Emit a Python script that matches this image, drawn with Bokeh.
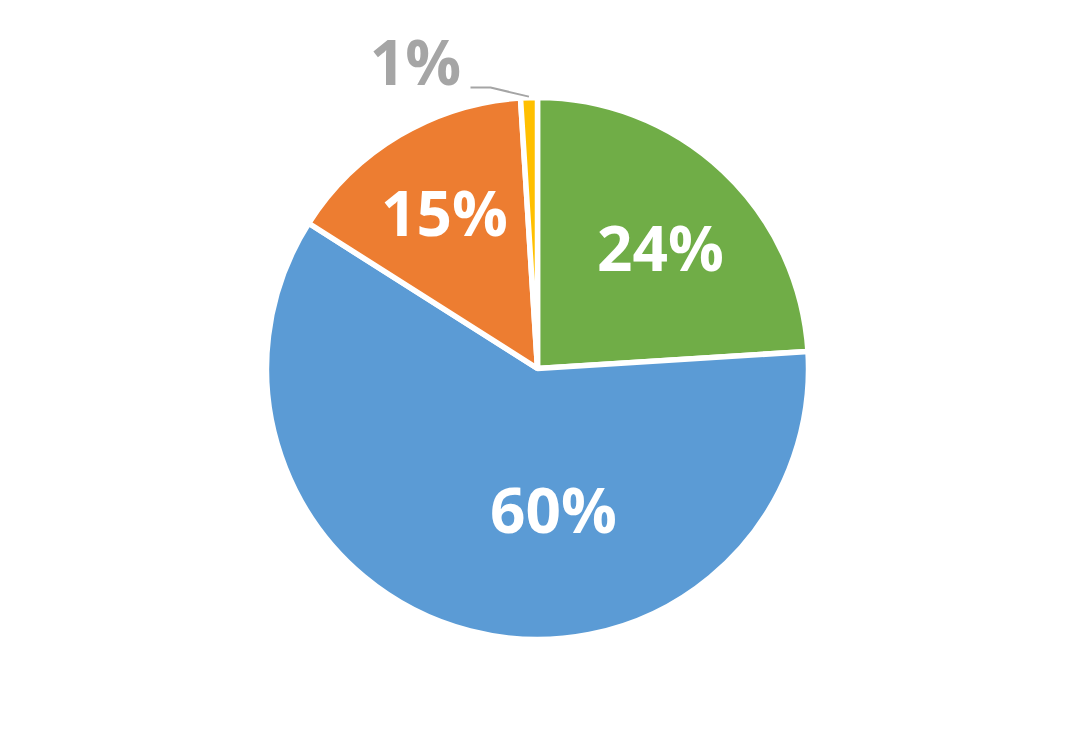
import math
from bokeh.plotting import figure
from bokeh.models import ColumnDataSource
from bokeh.core.properties import value
from bokeh.embed import file_html
from bokeh.resources import INLINE

# ---- data ----
categories = ["A", "B", "C", "D"]
shares = [24, 60, 15, 1]
labels = ["24%", "60%", "15%", "1%"]
colors = ["#70AD47", "#5B9BD5", "#ED7D31", "#FFC000"]

# ---- layout (pixel space of the figure) ----
W, H = 1059, 720
CX, CY, R = 537, 352, 271
# label positions in figure pixels
label_x = [660, 553, 444, 415]
label_y = [474, 212, 509, 660]
label_colors = ["white", "white", "white", "#A5A5A5"]

total = float(sum(shares))
starts, ends = [], []
cum = 0.0
for s in shares:
    a0 = math.radians(90 - 360 * (cum + s) / total)
    a1 = math.radians(90 - 360 * cum / total)
    starts.append(a0)
    ends.append(a1)
    cum += s

src = ColumnDataSource(dict(cat=categories, start=starts, end=ends, color=colors))

p = figure(width=W, height=H, x_range=(0, W), y_range=(0, H),
           output_backend="svg", toolbar_location=None, min_border=0)
p.axis.visible = False
p.grid.visible = False
p.outline_line_color = None
p.background_fill_color = "white"
p.border_fill_color = "white"

p.wedge(x=CX, y=CY, radius=R, start_angle="start", end_angle="end",
        fill_color="color", line_color="white", line_width=5.5, source=src)

# leader line for the small slice
mid = (starts[3] + ends[3]) / 2
ex = CX + (R + 1) * math.cos(mid)
ey = CY + (R + 1) * math.sin(mid)
p.line(x=[470, 490, ex], y=[633, 633, ey], line_color="#A5A5A5", line_width=2)

lsrc = ColumnDataSource(dict(x=label_x, y=label_y, t=labels, c=label_colors))
p.text(x="x", y="y", text="t", text_color="c", source=lsrc,
       text_font=value("Open Sans"), text_font_style="bold",
       text_font_size="62px", text_align="center", text_baseline="middle")

open("out.html", "w").write(file_html(p, INLINE))
